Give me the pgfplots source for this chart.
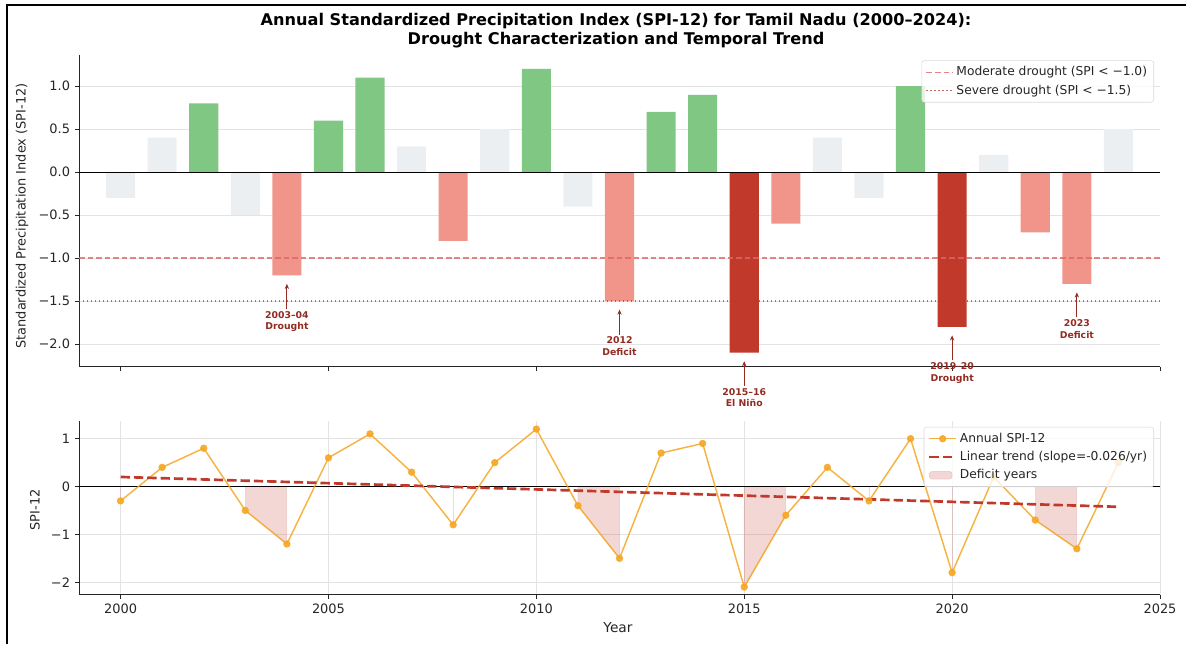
\documentclass[border=0pt]{standalone}
\usepackage{pgfplots}
\pgfplotsset{compat=1.18}
\usepackage{fontspec}
\setmainfont{DejaVu Sans}
\usetikzlibrary{arrows.meta}
\definecolor{PosGreen}{HTML}{81C784}
\definecolor{NeutGrey}{HTML}{ECEFF1}
\definecolor{LightRed}{HTML}{F1948A}
\definecolor{DarkRed}{HTML}{C0392B}
\definecolor{AnnRed}{HTML}{922B21}
\definecolor{ModRed}{HTML}{E06666}
\definecolor{SevRed}{HTML}{B03A2E}
\definecolor{SpiOrange}{HTML}{F5A623}
\definecolor{TickGrey}{HTML}{262626}

\pgfplotsset{
  spiaxis/.style={
    scale only axis,
    xmin=1999, xmax=2025,
    ymin=-2.265, ymax=1.365,
    axis x line*=bottom, axis y line*=left,
    axis line style={draw=TickGrey, line width=0.7pt},
    tick align=outside,
    major tick length=3.2pt,
    tick style={draw=TickGrey, line width=0.6pt},
    ticklabel style={font=\fontsize{9.7}{11}\selectfont, text=TickGrey},
    grid style={draw=gray!22, line width=0.5pt},
    legend cell align=left,
    legend style={at={(1,1)}, anchor=north east, xshift=-4.5pt, yshift=-4.2pt,
      draw=gray!30, rounded corners=2pt, fill=white, fill opacity=0.8, text opacity=1,
      font=\fontsize{9.2}{11}\selectfont, text=TickGrey, inner xsep=3pt, inner ysep=2.5pt,
      row sep=1.2pt},
  },
}

% arrow + two-line label under a bar: year, value, line 1, line 2
\newcommand{\spiann}[4]{%
  \draw[draw=AnnRed, line width=0.6pt, -{Stealth[length=3.8pt, width=3.2pt]}]
    (axis cs:#1,#2-0.39) -- (axis cs:#1,#2-0.1);
  \node[anchor=north, text=AnnRed, font=\bfseries\fontsize{7}{8.6}\selectfont, align=center, inner sep=1pt]
    at (axis cs:#1,#2-0.4) {#3\\#4};
}

\begin{document}
\begin{tikzpicture}
\useasboundingbox (0,0) rectangle (889.5pt,483pt);
\draw[line width=1.5pt, black] (5.25pt,0pt) -- (5.25pt,479.25pt) -- (889.5pt,479.25pt);

% top panel: bars
\begin{axis}[spiaxis,
  at={(59.25pt,207.9pt)}, anchor=south west,
  width=810.75pt, height=234pt,
  clip=false,
  xtick={2000,2005,2010,2015,2020,2025}, xticklabels={},
  ytick={-2,-1.5,-1,-0.5,0,0.5,1},
  yticklabels={−2.0,−1.5,−1.0,−0.5,0.0,0.5,1.0},
  ymajorgrids,
  legend image code/.code={\draw[#1] (0pt,0pt) -- (20pt,0pt);},
]
\addplot[ybar, bar width=0.7, bar shift=0pt, fill=PosGreen, draw=none, forget plot] coordinates {
  (2002,0.8) (2005,0.6) (2006,1.1) (2010,1.2) (2013,0.7) (2014,0.9) (2019,1.0)
};
\addplot[ybar, bar width=0.7, bar shift=0pt, fill=NeutGrey, draw=none, forget plot] coordinates {
  (2000,-0.3) (2001,0.4) (2003,-0.5) (2007,0.3) (2009,0.5) (2011,-0.4)
  (2017,0.4) (2018,-0.3) (2021,0.2) (2024,0.5)
};
\addplot[ybar, bar width=0.7, bar shift=0pt, fill=LightRed, draw=none, forget plot] coordinates {
  (2004,-1.2) (2008,-0.8) (2012,-1.5) (2016,-0.6) (2022,-0.7) (2023,-1.3)
};
\addplot[ybar, bar width=0.7, bar shift=0pt, fill=DarkRed, draw=none, forget plot] coordinates {
  (2015,-2.1) (2020,-1.8)
};
\addplot[draw=black, line width=0.6pt, forget plot] coordinates {(1999,0) (2025,0)};
\addplot[draw=ModRed, draw opacity=0.8, line width=0.9pt, dash pattern=on 4.2pt off 2.2pt] coordinates {(1999,-1) (2025,-1)};
\addlegendentry{Moderate drought (SPI < −1.0)}
\addplot[draw=SevRed, draw opacity=0.75, line width=1pt, dash pattern=on 1pt off 2pt] coordinates {(1999,-1.5) (2025,-1.5)};
\addlegendentry{Severe drought (SPI < −1.5)}

\spiann{2004}{-1.2}{2003–04}{Drought}
\spiann{2012}{-1.5}{2012}{Deficit}
\spiann{2015}{-2.1}{2015–16}{El Niño}
\spiann{2020}{-1.8}{2019–20}{Drought}
\spiann{2023}{-1.3}{2023}{Deficit}
\end{axis}

% bottom panel: line and trend
\begin{axis}[spiaxis,
  at={(59.25pt,36.8pt)}, anchor=south west,
  width=810.75pt, height=130.3pt,
  xtick={2000,2005,2010,2015,2020,2025},
  xticklabels={2000,2005,2010,2015,2020,2025},
  ytick={-2,-1,0,1}, yticklabels={−2,−1,0,1},
  xmajorgrids, ymajorgrids,
  legend image code/.code={
    \draw[#1] (0pt,0pt) -- (20pt,0pt);
    \draw[#1, dash pattern=] plot coordinates {(10pt,0pt)};},
]
% deficit shading
\addplot[fill=DarkRed, fill opacity=0.2, draw=DarkRed, draw opacity=0.15, line width=0.4pt, forget plot] coordinates {(2003,0) (2003,-0.5) (2004,-1.2) (2004,0)} -- cycle;
\addplot[fill=DarkRed, fill opacity=0.2, draw=DarkRed, draw opacity=0.15, line width=0.4pt, forget plot] coordinates {(2011,0) (2011,-0.4) (2012,-1.5) (2012,0)} -- cycle;
\addplot[fill=DarkRed, fill opacity=0.2, draw=DarkRed, draw opacity=0.15, line width=0.4pt, forget plot] coordinates {(2015,0) (2015,-2.1) (2016,-0.6) (2016,0)} -- cycle;
\addplot[fill=DarkRed, fill opacity=0.2, draw=DarkRed, draw opacity=0.15, line width=0.4pt, forget plot] coordinates {(2022,0) (2022,-0.7) (2023,-1.3) (2023,0)} -- cycle;
\addplot[draw=DarkRed, draw opacity=0.2, line width=0.5pt, forget plot] coordinates {(2000,0) (2000,-0.3)};
\addplot[draw=DarkRed, draw opacity=0.2, line width=0.5pt, forget plot] coordinates {(2008,0) (2008,-0.8)};
\addplot[draw=DarkRed, draw opacity=0.2, line width=0.5pt, forget plot] coordinates {(2018,0) (2018,-0.3)};
\addplot[draw=DarkRed, draw opacity=0.2, line width=0.5pt, forget plot] coordinates {(2020,0) (2020,-1.8)};
\addplot[draw=black, line width=0.6pt, forget plot] coordinates {(1999,0) (2025,0)};
\addplot[draw=SpiOrange, opacity=0.85, line width=1.1pt, mark=*, mark size=2.2pt,
  mark options={fill=SpiOrange, draw=SpiOrange}] coordinates {
  (2000,-0.3) (2001,0.4) (2002,0.8) (2003,-0.5) (2004,-1.2) (2005,0.6) (2006,1.1)
  (2007,0.3) (2008,-0.8) (2009,0.5) (2010,1.2) (2011,-0.4) (2012,-1.5) (2013,0.7)
  (2014,0.9) (2015,-2.1) (2016,-0.6) (2017,0.4) (2018,-0.3) (2019,1.0) (2020,-1.8)
  (2021,0.2) (2022,-0.7) (2023,-1.3) (2024,0.5)
};
\addlegendentry{Annual SPI-12}
\addplot[draw=DarkRed, line width=2pt, dash pattern=on 7pt off 3pt] coordinates {(2000,0.2) (2024,-0.424)};
\addlegendentry{Linear trend (slope=-0.026/yr)}
\addlegendimage{area legend, fill=DarkRed, fill opacity=0.2, draw=DarkRed, draw opacity=0.2}
\addlegendentry{Deficit years}
\end{axis}

% titles and labels
\node[font=\bfseries\fontsize{12.1}{14.4}\selectfont, align=center] at (462pt,460pt)
  {Annual Standardized Precipitation Index (SPI-12) for Tamil Nadu (2000–2024):\\Drought Characterization and Temporal Trend};
\node[rotate=90, font=\fontsize{9.7}{11}\selectfont, text=TickGrey] at (16.5pt,321pt)
  {Standardized Precipitation Index (SPI-12)};
\node[rotate=90, font=\fontsize{9.7}{11}\selectfont, text=TickGrey] at (26.25pt,100.5pt) {SPI-12};
\node[font=\fontsize{10.3}{12}\selectfont, text=TickGrey] at (463.5pt,12pt) {Year};
\end{tikzpicture}
\end{document}
